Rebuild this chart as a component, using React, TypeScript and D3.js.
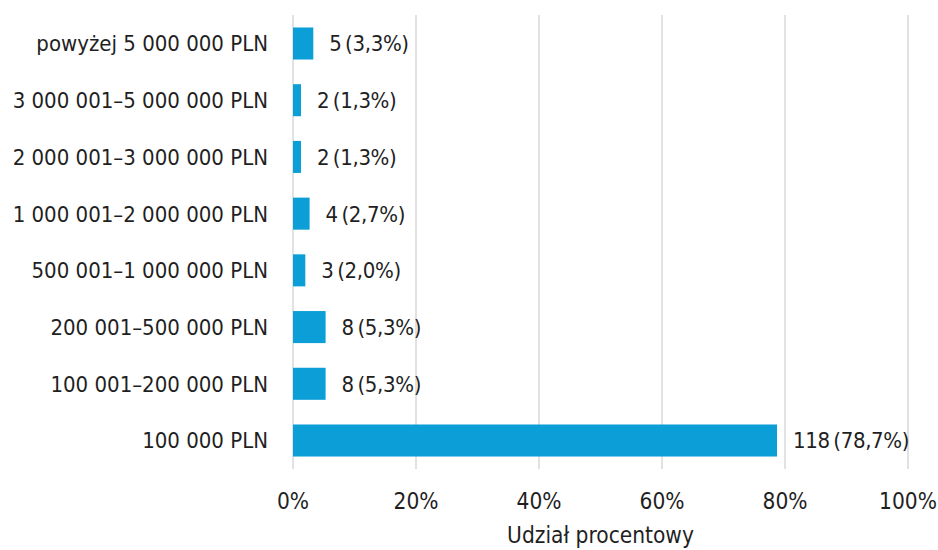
import React from "react";
import * as d3 from "d3";

const categories = [
  "powyżej 5 000 000 PLN",
  "3 000 001–5 000 000 PLN",
  "2 000 001–3 000 000 PLN",
  "1 000 001–2 000 000 PLN",
  "500 001–1 000 000 PLN",
  "200 001–500 000 PLN",
  "100 001–200 000 PLN",
  "100 000 PLN",
];
const counts = [5, 2, 2, 4, 3, 8, 8, 118];
const percents = [3.3, 1.3, 1.3, 2.7, 2.0, 5.3, 5.3, 78.7];
const xTicks = [0, 20, 40, 60, 80, 100];
const xTitle = "Udział procentowy";

const W = 938;
const H = 550;
const FONT = "'DejaVu Sans Condensed', 'Liberation Sans Narrow', sans-serif";
const BAR = "#0c9ed7";
const GRID = "#d9d9d9";
const TEXT = "#1f1f1f";

export default function App() {
  const x = d3.scaleLinear().domain([0, 100]).range([293, 908]);
  const y = d3
    .scaleBand<string>()
    .domain(categories)
    .range([15, 469])
    .paddingInner(0.435)
    .paddingOuter(0.22);
  const fmt = (v: number) => v.toFixed(1).replace(".", ",");
  const fs = 22;
  return (
    <svg
      width={W}
      height={H}
      style={{ position: "absolute", left: 0, top: 0 }}
      fontFamily={FONT}
    >
      <rect width={W} height={H} fill="#ffffff" />
      {xTicks.map((t) => (
        <line
          key={"g" + t}
          x1={x(t)}
          x2={x(t)}
          y1={15}
          y2={469}
          stroke={GRID}
          strokeWidth={1.5}
        />
      ))}
      {categories.map((c, i) => {
        const yy = y(c)!;
        const bw = y.bandwidth();
        return (
          <g key={c}>
            <rect
              x={x(0)}
              y={yy}
              width={x(percents[i]) - x(0)}
              height={bw}
              fill={BAR}
            />
            <text
              x={268}
              y={yy + bw / 2}
              dy="0.36em"
              textAnchor="end"
              fontSize={fs}
              fill={TEXT}
            >
              {c}
            </text>
            <text
              x={x(percents[i]) + 16}
              y={yy + bw / 2}
              dy="0.36em"
              fontSize={fs}
              letterSpacing={-0.35}
              fill={TEXT}
            >
              {`${counts[i]}\u2009(${fmt(percents[i])}%)`}
            </text>
          </g>
        );
      })}
      {xTicks.map((t) => (
        <text
          key={"t" + t}
          x={x(t)}
          y={509}
          textAnchor="middle"
          fontSize={22.5}
          fill={TEXT}
        >
          {`${t}%`}
        </text>
      ))}
      <text
        x={(x(0) + x(100)) / 2}
        y={543}
        textAnchor="middle"
        fontSize={22.5}
        fill={TEXT}
      >
        {xTitle}
      </text>
    </svg>
  );
}
